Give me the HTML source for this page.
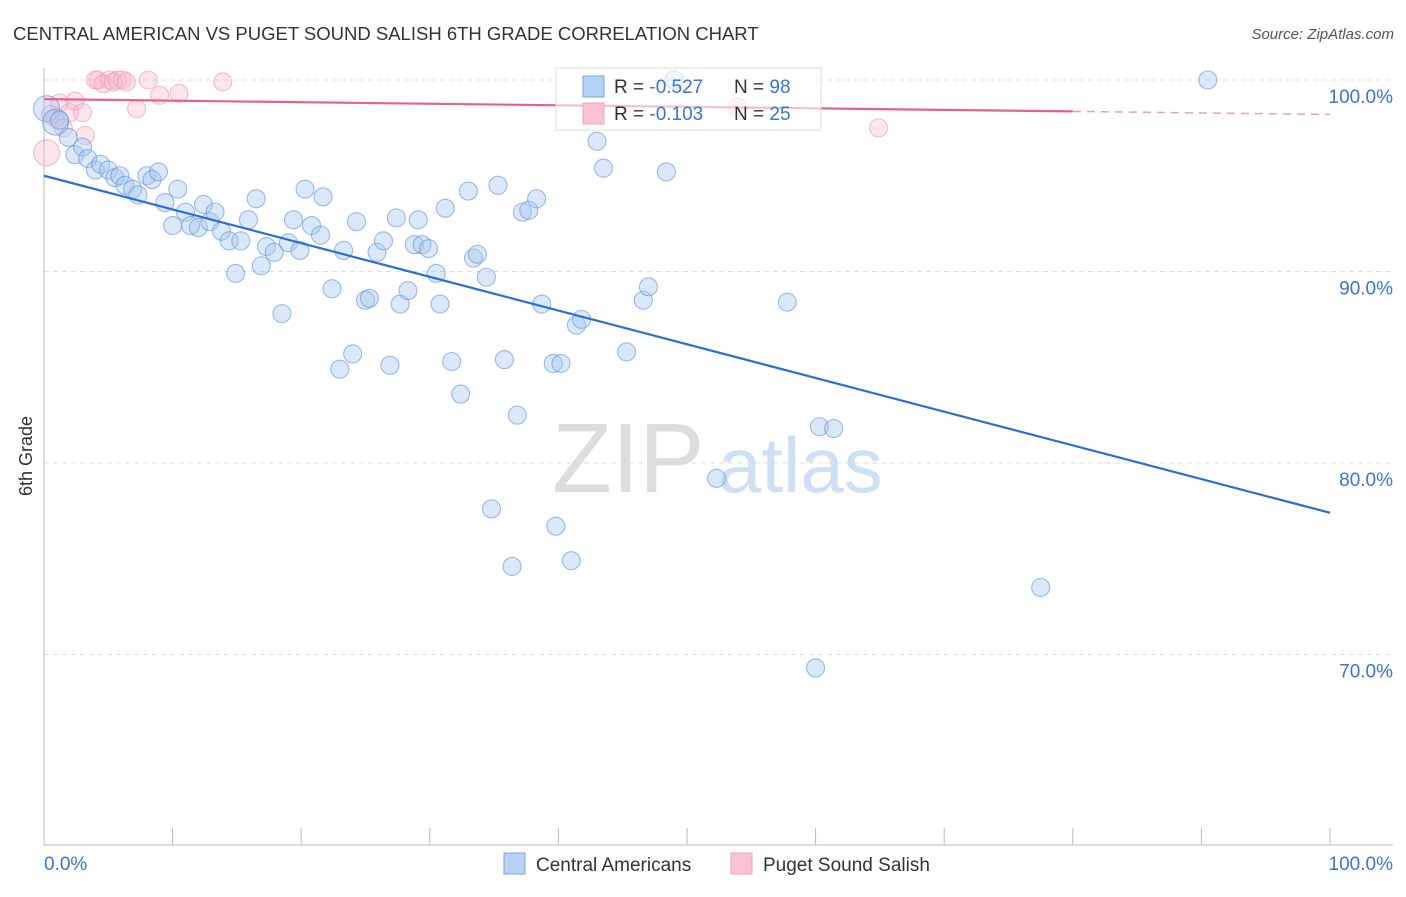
<!DOCTYPE html>
<html><head><meta charset="utf-8"><style>
body{margin:0;background:#fff;font-family:"Liberation Sans",sans-serif;}
svg text{font-family:"Liberation Sans",sans-serif;}
</style></head><body>
<svg id="chart" width="1406" height="892" xmlns="http://www.w3.org/2000/svg">
<text x="13" y="40" font-size="18.5" fill="#333">CENTRAL AMERICAN VS PUGET SOUND SALISH 6TH GRADE CORRELATION CHART</text>
<text x="1394" y="39" font-size="15" fill="#555" text-anchor="end" font-style="italic">Source: ZipAtlas.com</text>
<g>
<text x="552" y="492" font-size="98" fill="#ddd" font-family="Liberation Serif, serif">ZIP</text>
<text x="718" y="492" font-size="78" fill="#cfe0f5">atlas</text>
</g>
<g id="grid"></g>
<g id="axes"></g>
<g id="marks"></g>
<g>
<rect x="556" y="68" width="265" height="62" fill="#fff" fill-opacity="0.6" stroke="#ddd"/>
<rect x="583" y="76" width="21" height="21" fill="#b7d2f5" stroke="#7aa6e0"/>
<rect x="583" y="103" width="21" height="21" fill="#f9c3d3" stroke="#f0a0b8"/>
<text x="614" y="93" font-size="19" fill="#333">R = <tspan fill="#3b74d4">-0.527</tspan></text>
<text x="734" y="93" font-size="19" fill="#333">N = <tspan fill="#3b74d4">98</tspan></text>
<text x="614" y="120" font-size="19" fill="#333">R = <tspan fill="#3b74d4">-0.103</tspan></text>
<text x="734" y="120" font-size="19" fill="#333">N = <tspan fill="#3b74d4">25</tspan></text>
</g>
<g>
<rect x="504" y="853" width="21" height="21" fill="#b7d2f5" stroke="#7aa6e0"/>
<text x="536" y="871" font-size="19" fill="#333">Central Americans</text>
<rect x="731" y="853" width="21" height="21" fill="#f9c3d3" stroke="#f0a0b8"/>
<text x="763" y="871" font-size="19" fill="#333">Puget Sound Salish</text>
</g>
<text transform="translate(32,456) rotate(-90)" font-size="18" fill="#333" text-anchor="middle">6th Grade</text>
</svg>
<script>
const blueX=[0.2,0.9,1.2,1.9,2.4,3.0,3.4,4.0,4.4,5.0,5.5,5.9,6.3,6.9,7.3,8.0,8.4,8.9,9.4,10.0,10.4,11.0,11.4,12.0,12.4,12.9,13.3,13.8,14.4,14.9,15.3,15.9,16.5,16.9,17.3,17.9,18.5,19.0,19.4,19.9,20.3,20.8,21.5,21.7,22.4,23.0,23.3,24.0,24.3,25.0,25.3,25.9,26.4,26.9,27.4,27.7,28.3,28.8,29.1,29.4,29.9,30.5,30.8,31.2,31.7,32.4,33.0,33.4,33.7,34.4,34.8,35.3,35.8,36.4,36.8,37.2,37.7,38.3,38.7,39.6,39.8,40.2,41.0,41.4,41.8,43.0,43.5,45.3,46.6,47.0,48.4,49.0,52.3,57.8,60.0,60.3,61.4,77.5,90.5];
const blueY=[98.5,97.8,97.9,97.0,96.1,96.5,95.9,95.3,95.6,95.3,94.9,95.0,94.5,94.3,94.0,95.0,94.8,95.2,93.6,92.4,94.3,93.1,92.4,92.3,93.5,92.6,93.1,92.1,91.6,89.9,91.6,92.7,93.8,90.3,91.3,91.0,87.8,91.5,92.7,91.1,94.3,92.4,91.9,93.9,89.1,84.9,91.1,85.7,92.6,88.5,88.6,91.0,91.6,85.1,92.8,88.3,89.0,91.4,92.7,91.4,91.2,89.9,88.3,93.3,85.3,83.6,94.2,90.7,90.9,89.7,77.6,94.5,85.4,74.6,82.5,93.1,93.2,93.8,88.3,85.2,76.7,85.2,74.9,87.2,87.5,96.8,95.4,85.8,88.5,89.2,95.2,100.0,79.2,88.4,69.3,81.9,81.8,73.5,100.0];
const pinkX=[0.2,0.9,1.2,2.0,2.4,3.0,3.2,1.5,0.5,4.0,4.2,4.6,5.1,5.4,5.7,6.1,6.4,7.2,8.1,9.0,10.5,13.9,53.9,64.9];
const pinkY=[96.2,98.0,98.8,98.3,98.9,98.3,97.1,97.5,98.2,100,100,99.8,100,99.9,100,100,99.9,98.5,100,99.2,99.3,99.9,98.6,97.5];
const blueTrend=[95.0,77.4];
const pinkTrend=[99.0,98.2];
const yTicks=[100,90,80,70];
const yTickLabels=["100.0%","90.0%","80.0%","70.0%"];
const xTicks=[0,10,20,30,40,50,60,70,80,90,100];

const NS="http://www.w3.org/2000/svg";
const sx=v=>44+v*12.86;
const sy=v=>80+(100-v)*19.15;
function mk(tag,attrs,parent){const e=document.createElementNS(NS,tag);for(const k in attrs)e.setAttribute(k,attrs[k]);document.getElementById(parent).appendChild(e);return e;}

yTicks.forEach((t,i)=>{
 const g=mk('line',{x1:44,x2:1393,y1:sy(t),y2:sy(t),stroke:'#ddd','stroke-dasharray':'5,4'},'grid');
 
 
 const l=mk('text',{x:1393,y:sy(t)+23,'font-size':19,fill:'#3b74d4','text-anchor':'end'},'grid');
 l.textContent=yTickLabels[i];
 
 
});
let a=mk('line',{x1:44,x2:44,y1:68,y2:845,stroke:'#bbb'},'axes');


a=mk('line',{x1:44,x2:1393,y1:845,y2:845,stroke:'#bbb'},'axes');


xTicks.forEach(t=>{
 const k=mk('line',{x1:sx(t),x2:sx(t),y1:828,y2:845,stroke:'#bbb'},'axes');
 
 
});
let xl=mk('text',{x:44,y:870,'font-size':19,fill:'#3b74d4'},'axes');xl.textContent='0.0%';


xl=mk('text',{x:1393,y:870,'font-size':19,fill:'#3b74d4','text-anchor':'end'},'axes');xl.textContent='100.0%';



pinkX.forEach((x,i)=>{
 const c=mk('circle',{cx:sx(x),cy:sy(pinkY[i]),r:i===0?13:9,fill:'rgba(248,180,200,0.35)',stroke:'rgba(235,150,178,0.6)','stroke-width':1.1},'marks');
 
 
});
blueX.forEach((x,i)=>{
 const c=mk('circle',{cx:sx(x),cy:sy(blueY[i]),r:i<2?13:9,fill:'rgba(165,198,240,0.4)',stroke:'rgba(95,145,220,0.6)','stroke-width':1.1},'marks');
 
 
});
let t=mk('line',{x1:sx(0),y1:sy(blueTrend[0]),x2:sx(100),y2:sy(blueTrend[1]),stroke:'#2a6fd6','stroke-width':2.2},'marks');


const py=x=>pinkTrend[0]+(pinkTrend[1]-pinkTrend[0])*x/100;
t=mk('line',{x1:sx(0),y1:sy(py(0)),x2:sx(80),y2:sy(py(80)),stroke:'#e8608a','stroke-width':2.2},'marks');


t=mk('line',{x1:sx(80),y1:sy(py(80)),x2:sx(100),y2:sy(py(100)),stroke:'#e8a0b8','stroke-width':1.5,'stroke-dasharray':'8,6'},'marks');


</script>
</body></html>
